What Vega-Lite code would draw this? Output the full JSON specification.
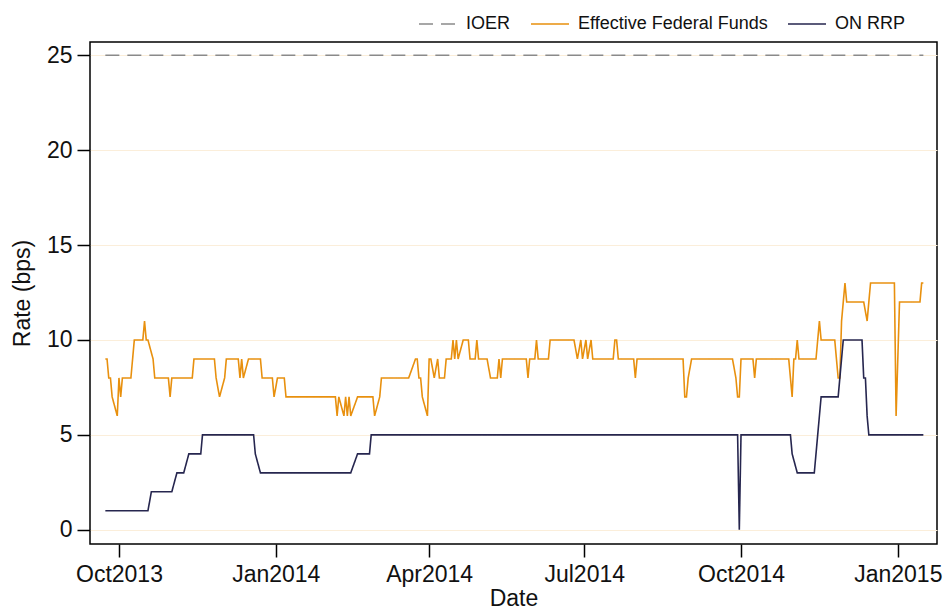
{
  "$schema": "https://vega.github.io/schema/vega-lite/v6.json",
  "autosize": "none",
  "width": 847,
  "height": 502,
  "padding": {"left": 90, "top": 42, "right": 8, "bottom": 65},
  "background": "white",
  "config": {
    "view": {"stroke": "#000", "strokeWidth": 1.5},
    "font": "Liberation Sans"
  },
  "data": {
    "values": [
      {"date": "2013-09-23", "series": "IOER", "rate": 25},
      {"date": "2015-01-16", "series": "IOER", "rate": 25},

      {"date": "2013-09-23", "series": "Effective Federal Funds", "rate": 9},
      {"date": "2013-09-24", "series": "Effective Federal Funds", "rate": 9},
      {"date": "2013-09-25", "series": "Effective Federal Funds", "rate": 8},
      {"date": "2013-09-26", "series": "Effective Federal Funds", "rate": 8},
      {"date": "2013-09-27", "series": "Effective Federal Funds", "rate": 7},
      {"date": "2013-09-30", "series": "Effective Federal Funds", "rate": 6},
      {"date": "2013-10-01", "series": "Effective Federal Funds", "rate": 8},
      {"date": "2013-10-02", "series": "Effective Federal Funds", "rate": 7},
      {"date": "2013-10-03", "series": "Effective Federal Funds", "rate": 8},
      {"date": "2013-10-08", "series": "Effective Federal Funds", "rate": 8},
      {"date": "2013-10-09", "series": "Effective Federal Funds", "rate": 9},
      {"date": "2013-10-10", "series": "Effective Federal Funds", "rate": 10},
      {"date": "2013-10-15", "series": "Effective Federal Funds", "rate": 10},
      {"date": "2013-10-16", "series": "Effective Federal Funds", "rate": 11},
      {"date": "2013-10-17", "series": "Effective Federal Funds", "rate": 10},
      {"date": "2013-10-18", "series": "Effective Federal Funds", "rate": 10},
      {"date": "2013-10-21", "series": "Effective Federal Funds", "rate": 9},
      {"date": "2013-10-22", "series": "Effective Federal Funds", "rate": 8},
      {"date": "2013-10-30", "series": "Effective Federal Funds", "rate": 8},
      {"date": "2013-10-31", "series": "Effective Federal Funds", "rate": 7},
      {"date": "2013-11-01", "series": "Effective Federal Funds", "rate": 8},
      {"date": "2013-11-13", "series": "Effective Federal Funds", "rate": 8},
      {"date": "2013-11-14", "series": "Effective Federal Funds", "rate": 9},
      {"date": "2013-11-26", "series": "Effective Federal Funds", "rate": 9},
      {"date": "2013-11-27", "series": "Effective Federal Funds", "rate": 8},
      {"date": "2013-11-29", "series": "Effective Federal Funds", "rate": 7},
      {"date": "2013-12-02", "series": "Effective Federal Funds", "rate": 8},
      {"date": "2013-12-03", "series": "Effective Federal Funds", "rate": 9},
      {"date": "2013-12-10", "series": "Effective Federal Funds", "rate": 9},
      {"date": "2013-12-11", "series": "Effective Federal Funds", "rate": 8},
      {"date": "2013-12-12", "series": "Effective Federal Funds", "rate": 9},
      {"date": "2013-12-13", "series": "Effective Federal Funds", "rate": 8},
      {"date": "2013-12-16", "series": "Effective Federal Funds", "rate": 9},
      {"date": "2013-12-23", "series": "Effective Federal Funds", "rate": 9},
      {"date": "2013-12-24", "series": "Effective Federal Funds", "rate": 8},
      {"date": "2013-12-30", "series": "Effective Federal Funds", "rate": 8},
      {"date": "2013-12-31", "series": "Effective Federal Funds", "rate": 7},
      {"date": "2014-01-02", "series": "Effective Federal Funds", "rate": 8},
      {"date": "2014-01-06", "series": "Effective Federal Funds", "rate": 8},
      {"date": "2014-01-07", "series": "Effective Federal Funds", "rate": 7},
      {"date": "2014-02-05", "series": "Effective Federal Funds", "rate": 7},
      {"date": "2014-02-06", "series": "Effective Federal Funds", "rate": 6},
      {"date": "2014-02-07", "series": "Effective Federal Funds", "rate": 7},
      {"date": "2014-02-10", "series": "Effective Federal Funds", "rate": 6},
      {"date": "2014-02-11", "series": "Effective Federal Funds", "rate": 7},
      {"date": "2014-02-12", "series": "Effective Federal Funds", "rate": 6},
      {"date": "2014-02-13", "series": "Effective Federal Funds", "rate": 7},
      {"date": "2014-02-14", "series": "Effective Federal Funds", "rate": 6},
      {"date": "2014-02-18", "series": "Effective Federal Funds", "rate": 7},
      {"date": "2014-02-27", "series": "Effective Federal Funds", "rate": 7},
      {"date": "2014-02-28", "series": "Effective Federal Funds", "rate": 6},
      {"date": "2014-03-03", "series": "Effective Federal Funds", "rate": 7},
      {"date": "2014-03-04", "series": "Effective Federal Funds", "rate": 8},
      {"date": "2014-03-20", "series": "Effective Federal Funds", "rate": 8},
      {"date": "2014-03-24", "series": "Effective Federal Funds", "rate": 9},
      {"date": "2014-03-25", "series": "Effective Federal Funds", "rate": 9},
      {"date": "2014-03-26", "series": "Effective Federal Funds", "rate": 8},
      {"date": "2014-03-27", "series": "Effective Federal Funds", "rate": 8},
      {"date": "2014-03-28", "series": "Effective Federal Funds", "rate": 7},
      {"date": "2014-03-31", "series": "Effective Federal Funds", "rate": 6},
      {"date": "2014-04-01", "series": "Effective Federal Funds", "rate": 9},
      {"date": "2014-04-02", "series": "Effective Federal Funds", "rate": 9},
      {"date": "2014-04-04", "series": "Effective Federal Funds", "rate": 8},
      {"date": "2014-04-06", "series": "Effective Federal Funds", "rate": 9},
      {"date": "2014-04-07", "series": "Effective Federal Funds", "rate": 8},
      {"date": "2014-04-10", "series": "Effective Federal Funds", "rate": 8},
      {"date": "2014-04-11", "series": "Effective Federal Funds", "rate": 9},
      {"date": "2014-04-14", "series": "Effective Federal Funds", "rate": 9},
      {"date": "2014-04-15", "series": "Effective Federal Funds", "rate": 10},
      {"date": "2014-04-16", "series": "Effective Federal Funds", "rate": 9},
      {"date": "2014-04-17", "series": "Effective Federal Funds", "rate": 10},
      {"date": "2014-04-18", "series": "Effective Federal Funds", "rate": 9},
      {"date": "2014-04-21", "series": "Effective Federal Funds", "rate": 10},
      {"date": "2014-04-24", "series": "Effective Federal Funds", "rate": 10},
      {"date": "2014-04-25", "series": "Effective Federal Funds", "rate": 9},
      {"date": "2014-04-28", "series": "Effective Federal Funds", "rate": 9},
      {"date": "2014-04-29", "series": "Effective Federal Funds", "rate": 10},
      {"date": "2014-04-30", "series": "Effective Federal Funds", "rate": 9},
      {"date": "2014-05-05", "series": "Effective Federal Funds", "rate": 9},
      {"date": "2014-05-07", "series": "Effective Federal Funds", "rate": 8},
      {"date": "2014-05-11", "series": "Effective Federal Funds", "rate": 8},
      {"date": "2014-05-12", "series": "Effective Federal Funds", "rate": 9},
      {"date": "2014-05-13", "series": "Effective Federal Funds", "rate": 8},
      {"date": "2014-05-14", "series": "Effective Federal Funds", "rate": 9},
      {"date": "2014-05-28", "series": "Effective Federal Funds", "rate": 9},
      {"date": "2014-05-29", "series": "Effective Federal Funds", "rate": 8},
      {"date": "2014-05-30", "series": "Effective Federal Funds", "rate": 9},
      {"date": "2014-06-02", "series": "Effective Federal Funds", "rate": 9},
      {"date": "2014-06-03", "series": "Effective Federal Funds", "rate": 10},
      {"date": "2014-06-04", "series": "Effective Federal Funds", "rate": 9},
      {"date": "2014-06-10", "series": "Effective Federal Funds", "rate": 9},
      {"date": "2014-06-11", "series": "Effective Federal Funds", "rate": 10},
      {"date": "2014-06-25", "series": "Effective Federal Funds", "rate": 10},
      {"date": "2014-06-27", "series": "Effective Federal Funds", "rate": 9},
      {"date": "2014-06-29", "series": "Effective Federal Funds", "rate": 10},
      {"date": "2014-06-30", "series": "Effective Federal Funds", "rate": 9},
      {"date": "2014-07-02", "series": "Effective Federal Funds", "rate": 10},
      {"date": "2014-07-03", "series": "Effective Federal Funds", "rate": 9},
      {"date": "2014-07-05", "series": "Effective Federal Funds", "rate": 10},
      {"date": "2014-07-06", "series": "Effective Federal Funds", "rate": 9},
      {"date": "2014-07-18", "series": "Effective Federal Funds", "rate": 9},
      {"date": "2014-07-19", "series": "Effective Federal Funds", "rate": 10},
      {"date": "2014-07-20", "series": "Effective Federal Funds", "rate": 10},
      {"date": "2014-07-21", "series": "Effective Federal Funds", "rate": 9},
      {"date": "2014-07-30", "series": "Effective Federal Funds", "rate": 9},
      {"date": "2014-07-31", "series": "Effective Federal Funds", "rate": 8},
      {"date": "2014-08-01", "series": "Effective Federal Funds", "rate": 9},
      {"date": "2014-08-28", "series": "Effective Federal Funds", "rate": 9},
      {"date": "2014-08-29", "series": "Effective Federal Funds", "rate": 7},
      {"date": "2014-08-30", "series": "Effective Federal Funds", "rate": 7},
      {"date": "2014-08-31", "series": "Effective Federal Funds", "rate": 8},
      {"date": "2014-09-02", "series": "Effective Federal Funds", "rate": 9},
      {"date": "2014-09-26", "series": "Effective Federal Funds", "rate": 9},
      {"date": "2014-09-28", "series": "Effective Federal Funds", "rate": 8},
      {"date": "2014-09-29", "series": "Effective Federal Funds", "rate": 7},
      {"date": "2014-09-30", "series": "Effective Federal Funds", "rate": 7},
      {"date": "2014-10-01", "series": "Effective Federal Funds", "rate": 9},
      {"date": "2014-10-08", "series": "Effective Federal Funds", "rate": 9},
      {"date": "2014-10-09", "series": "Effective Federal Funds", "rate": 8},
      {"date": "2014-10-10", "series": "Effective Federal Funds", "rate": 9},
      {"date": "2014-10-29", "series": "Effective Federal Funds", "rate": 9},
      {"date": "2014-10-30", "series": "Effective Federal Funds", "rate": 8},
      {"date": "2014-10-31", "series": "Effective Federal Funds", "rate": 7},
      {"date": "2014-11-01", "series": "Effective Federal Funds", "rate": 9},
      {"date": "2014-11-02", "series": "Effective Federal Funds", "rate": 9},
      {"date": "2014-11-03", "series": "Effective Federal Funds", "rate": 10},
      {"date": "2014-11-04", "series": "Effective Federal Funds", "rate": 9},
      {"date": "2014-11-13", "series": "Effective Federal Funds", "rate": 9},
      {"date": "2014-11-14", "series": "Effective Federal Funds", "rate": 9},
      {"date": "2014-11-15", "series": "Effective Federal Funds", "rate": 10},
      {"date": "2014-11-16", "series": "Effective Federal Funds", "rate": 11},
      {"date": "2014-11-17", "series": "Effective Federal Funds", "rate": 10},
      {"date": "2014-11-25", "series": "Effective Federal Funds", "rate": 10},
      {"date": "2014-11-26", "series": "Effective Federal Funds", "rate": 9},
      {"date": "2014-11-27", "series": "Effective Federal Funds", "rate": 8},
      {"date": "2014-11-28", "series": "Effective Federal Funds", "rate": 8},
      {"date": "2014-11-29", "series": "Effective Federal Funds", "rate": 11},
      {"date": "2014-12-01", "series": "Effective Federal Funds", "rate": 13},
      {"date": "2014-12-02", "series": "Effective Federal Funds", "rate": 12},
      {"date": "2014-12-12", "series": "Effective Federal Funds", "rate": 12},
      {"date": "2014-12-14", "series": "Effective Federal Funds", "rate": 11},
      {"date": "2014-12-15", "series": "Effective Federal Funds", "rate": 12},
      {"date": "2014-12-16", "series": "Effective Federal Funds", "rate": 13},
      {"date": "2014-12-30", "series": "Effective Federal Funds", "rate": 13},
      {"date": "2014-12-31", "series": "Effective Federal Funds", "rate": 6},
      {"date": "2015-01-02", "series": "Effective Federal Funds", "rate": 12},
      {"date": "2015-01-14", "series": "Effective Federal Funds", "rate": 12},
      {"date": "2015-01-15", "series": "Effective Federal Funds", "rate": 13},
      {"date": "2015-01-16", "series": "Effective Federal Funds", "rate": 13},

      {"date": "2013-09-23", "series": "ON RRP", "rate": 1},
      {"date": "2013-10-18", "series": "ON RRP", "rate": 1},
      {"date": "2013-10-20", "series": "ON RRP", "rate": 2},
      {"date": "2013-11-01", "series": "ON RRP", "rate": 2},
      {"date": "2013-11-04", "series": "ON RRP", "rate": 3},
      {"date": "2013-11-08", "series": "ON RRP", "rate": 3},
      {"date": "2013-11-11", "series": "ON RRP", "rate": 4},
      {"date": "2013-11-18", "series": "ON RRP", "rate": 4},
      {"date": "2013-11-19", "series": "ON RRP", "rate": 5},
      {"date": "2013-12-19", "series": "ON RRP", "rate": 5},
      {"date": "2013-12-20", "series": "ON RRP", "rate": 4},
      {"date": "2013-12-23", "series": "ON RRP", "rate": 3},
      {"date": "2014-02-14", "series": "ON RRP", "rate": 3},
      {"date": "2014-02-18", "series": "ON RRP", "rate": 4},
      {"date": "2014-02-25", "series": "ON RRP", "rate": 4},
      {"date": "2014-02-26", "series": "ON RRP", "rate": 5},
      {"date": "2014-09-29", "series": "ON RRP", "rate": 5},
      {"date": "2014-09-30", "series": "ON RRP", "rate": 0},
      {"date": "2014-10-01", "series": "ON RRP", "rate": 5},
      {"date": "2014-10-30", "series": "ON RRP", "rate": 5},
      {"date": "2014-10-31", "series": "ON RRP", "rate": 4},
      {"date": "2014-11-03", "series": "ON RRP", "rate": 3},
      {"date": "2014-11-13", "series": "ON RRP", "rate": 3},
      {"date": "2014-11-15", "series": "ON RRP", "rate": 5},
      {"date": "2014-11-17", "series": "ON RRP", "rate": 7},
      {"date": "2014-11-27", "series": "ON RRP", "rate": 7},
      {"date": "2014-11-28", "series": "ON RRP", "rate": 8},
      {"date": "2014-11-30", "series": "ON RRP", "rate": 10},
      {"date": "2014-12-11", "series": "ON RRP", "rate": 10},
      {"date": "2014-12-12", "series": "ON RRP", "rate": 8},
      {"date": "2014-12-13", "series": "ON RRP", "rate": 8},
      {"date": "2014-12-14", "series": "ON RRP", "rate": 6},
      {"date": "2014-12-15", "series": "ON RRP", "rate": 5},
      {"date": "2015-01-16", "series": "ON RRP", "rate": 5}
    ]
  },
  "mark": {"type": "line", "strokeWidth": 1.6, "clip": true},
  "encoding": {
    "x": {
      "field": "date",
      "type": "temporal",
      "scale": {
        "type": "utc",
        "domain": [
          {"year": 2013, "month": 9, "date": 14, "utc": true},
          {"year": 2015, "month": 1, "date": 24, "utc": true}
        ]
      },
      "axis": {
        "values": [
          {"year": 2013, "month": 10, "date": 1, "utc": true},
          {"year": 2014, "month": 1, "date": 1, "utc": true},
          {"year": 2014, "month": 4, "date": 1, "utc": true},
          {"year": 2014, "month": 7, "date": 1, "utc": true},
          {"year": 2014, "month": 10, "date": 1, "utc": true},
          {"year": 2015, "month": 1, "date": 1, "utc": true}
        ],
        "labelExpr": "utcFormat(datum.value, '%b%Y')",
        "domain": false,
        "grid": false,
        "ticks": true,
        "tickSize": 13,
        "tickColor": "#000",
        "tickWidth": 1.5,
        "labelFont": "Liberation Sans",
        "labelFontSize": 23,
        "labelColor": "#111",
        "labelPadding": 6,
        "labelFlush": false,
        "labelOverlap": false,
        "title": "Date",
        "titleFont": "Liberation Sans",
        "titleFontSize": 23,
        "titleFontWeight": "normal",
        "titleColor": "#111",
        "titleBaseline": "middle",
        "titleY": 54
      }
    },
    "y": {
      "field": "rate",
      "type": "quantitative",
      "scale": {"domain": [-0.75, 25.7], "nice": false, "zero": false},
      "axis": {
        "values": [0, 5, 10, 15, 20, 25],
        "domain": false,
        "grid": true,
        "gridColor": "#FBEEDA",
        "gridWidth": 1,
        "ticks": true,
        "tickSize": 13,
        "tickColor": "#000",
        "tickWidth": 1.5,
        "labelFont": "Liberation Sans",
        "labelFontSize": 23,
        "labelColor": "#111",
        "labelPadding": 5,
        "labelFlush": false,
        "title": "Rate (bps)",
        "titleFont": "Liberation Sans",
        "titleFontSize": 23,
        "titleFontWeight": "normal",
        "titleColor": "#111",
        "titleBaseline": "middle",
        "titleX": -68,
        "titleY": 251
      }
    },
    "color": {
      "field": "series",
      "type": "nominal",
      "scale": {
        "domain": ["IOER", "Effective Federal Funds", "ON RRP"],
        "range": ["#8a8a8a", "#E8900E", "#26264F"]
      },
      "legend": {
        "title": null,
        "orient": "none",
        "legendX": 328,
        "legendY": -38,
        "direction": "horizontal",
        "symbolType": "stroke",
        "symbolSize": 1444,
        "symbolStrokeWidth": 1.6,
        "labelFont": "Liberation Sans",
        "labelFontSize": 18,
        "labelLimit": 0,
        "labelColor": "#111",
        "labelOffset": 8,
        "columnPadding": 16
      }
    },
    "strokeDash": {
      "field": "series",
      "type": "nominal",
      "scale": {
        "domain": ["IOER", "Effective Federal Funds", "ON RRP"],
        "range": [[14, 8], [1, 0], [1, 0]]
      },
      "legend": null
    }
  }
}
